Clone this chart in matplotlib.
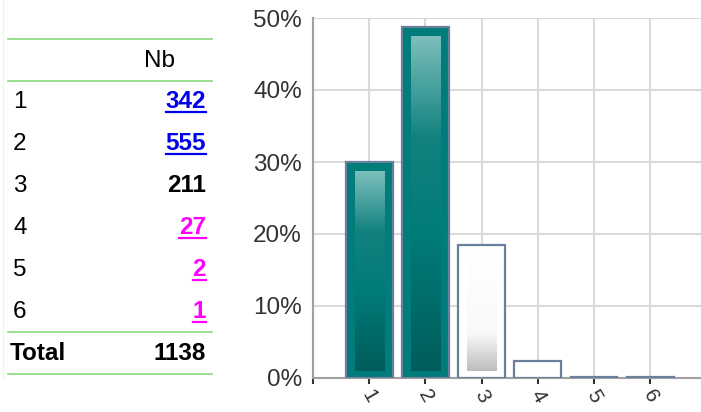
import numpy as np
import matplotlib
matplotlib.use("Agg")
import matplotlib.pyplot as plt
from matplotlib.colors import LinearSegmentedColormap
from matplotlib.lines import Line2D

plt.rcParams['font.family'] = ['Liberation Sans', 'DejaVu Sans']

# DATA
categories = ['1', '2', '3', '4', '5', '6']
counts = [342, 555, 211, 27, 2, 1]
total = 1138
value_colors = ['#0000ee', '#0000ee', '#000000', '#ff00ff', '#ff00ff', '#ff00ff']
underlined = [True, True, False, True, True, True]
bar_styles = ['teal', 'teal', 'white', 'white', 'white', 'white']
y_ticks = [0, 10, 20, 30, 40, 50]
y_tick_labels = ['0%', '10%', '20%', '30%', '40%', '50%']

W, H = 701, 412
fig = plt.figure(figsize=(W / 100, H / 100), dpi=100)


def fx(x):
    return x / W


def fy(y):
    return 1 - y / H


# ---- chart ----
ax_left, ax_right, ax_top, ax_bot = 313, 701, 18, 378
ax = fig.add_axes([fx(ax_left), fy(ax_bot), fx(ax_right - ax_left), (ax_bot - ax_top) / H])
step = 56.2
ax.set_xlim(0, (ax_right - ax_left) / step)
ax.set_ylim(0, 50)

pct = [c / total * 100 for c in counts]
xs = np.arange(1, len(categories) + 1)
bw = 0.83

teal_cmap = LinearSegmentedColormap.from_list(
    'teal', [(0, '#7cbfbc'), (0.3, '#12827f'), (0.6, '#007b79'), (1, '#005d5b')])
white_cmap = LinearSegmentedColormap.from_list(
    'wh', [(0, '#ffffff'), (0.68, '#f9f9f9'), (1, '#bdbdbd')])

for x, p, st in zip(xs, pct, bar_styles):
    face = '#007c7a' if st == 'teal' else 'white'
    ax.bar(x, p, width=bw, color=face, edgecolor='#6a7f9e', linewidth=1.6, zorder=3)
    # inner gradient
    ix = 9 / step
    top_in = 9 / 7.2
    bot_in = 7.5 / 7.2
    if p - top_in - bot_in > 2:
        grad = np.linspace(0, 1, 256).reshape(-1, 1)
        cmap = teal_cmap if st == 'teal' else white_cmap
        ax.imshow(grad, cmap=cmap, aspect='auto', origin='upper',
                  extent=(x - bw / 2 + ix, x + bw / 2 - ix * 0.85, bot_in, p - top_in),
                  zorder=4, interpolation='bilinear')

ax.set_xlim(0, (ax_right - ax_left) / step)
ax.set_ylim(0, 50)

ax.set_yticks(y_ticks)
ax.set_yticklabels(y_tick_labels, fontsize=17.5, color='#333333')
ax.set_xticks(range(0, len(categories) + 1))
ax.set_xticklabels([''] + categories, fontsize=15, color='#333333', rotation=-60,
                   ha='center', va='top')
ax.tick_params(axis='y', length=0, pad=8)
ax.tick_params(axis='x', length=4, width=1.5, color='#333333', pad=2)
ax.grid(True, color='#d9d9d9', linewidth=1.5, zorder=0)
ax.set_axisbelow(True)
for s in ['top', 'right']:
    ax.spines[s].set_visible(False)
ax.spines['left'].set_color('#a0a0a0')
ax.spines['bottom'].set_color('#a0a0a0')
ax.spines['left'].set_linewidth(1.5)
ax.spines['bottom'].set_linewidth(1.5)

# ---- table ----
green = '#86da78'
for yl in [39, 81, 332, 374]:
    fig.add_artist(Line2D([fx(8), fx(212)], [fy(yl), fy(yl)], color=green, linewidth=1.2))
fig.add_artist(Line2D([fx(3), fx(3)], [fy(0), fy(380)], color='#eef8ea', linewidth=1))

fs = 17.5
fig.text(fx(160), fy(61), 'Nb', fontsize=fs, ha='center', va='center')
row_y = [102, 144, 186, 228, 270, 312]
value_texts = []
for yv, cat, c, col, ul in zip(row_y, categories, counts, value_colors, underlined):
    fig.text(fx(13), fy(yv), cat, fontsize=fs, ha='left', va='center')
    t = fig.text(fx(206), fy(yv), str(c), fontsize=fs, fontweight='bold', color=col,
                 ha='right', va='center')
    if ul:
        value_texts.append((t, col))
fig.text(fx(10), fy(353), 'Total', fontsize=fs, fontweight='bold', ha='left', va='center')
fig.text(fx(206), fy(353), str(total), fontsize=fs, fontweight='bold', ha='right', va='center')

# underline links
fig.canvas.draw()
r = fig.canvas.get_renderer()
for t, col in value_texts:
    bb = t.get_window_extent(r)
    yb = bb.y0 + 1.5
    fig.add_artist(Line2D([bb.x0 / W, bb.x1 / W], [yb / H, yb / H], color=col, linewidth=1.6))

fig.savefig('out.png', dpi=100)
